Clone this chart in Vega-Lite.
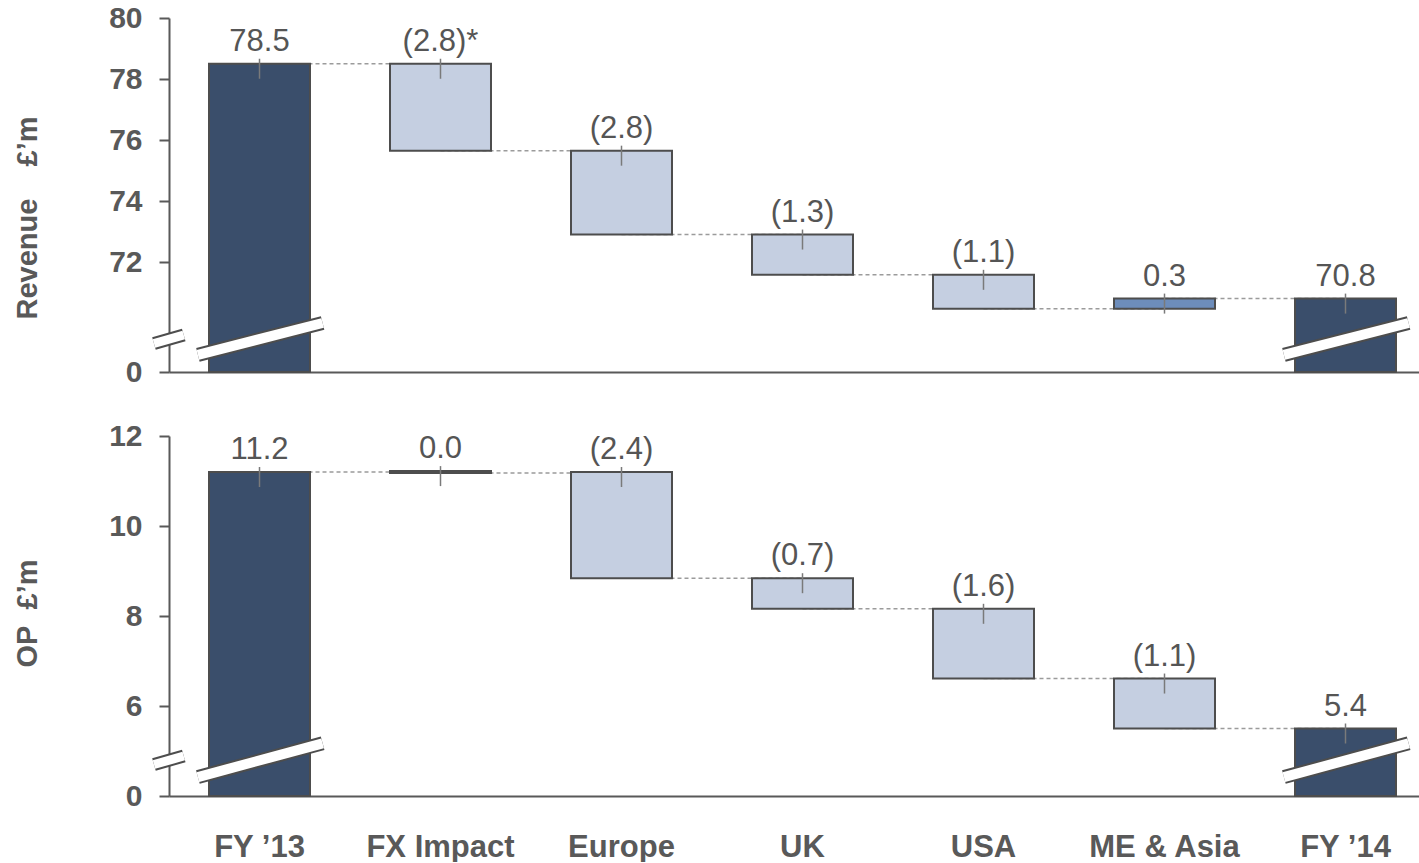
{
  "$schema": "https://vega.github.io/schema/vega-lite/v6.json",
  "background": "white",
  "padding": {"left": 12, "top": 3, "right": 0, "bottom": 0},
  "spacing": 64,
  "bounds": "flush",
  "config": {
    "view": {"stroke": null},
    "font": "Liberation Sans",
    "axis": {
      "grid": false,
      "domainColor": "#595959",
      "domainWidth": 2,
      "tickColor": "#595959",
      "tickWidth": 2,
      "labelFont": "Liberation Sans",
      "labelFontWeight": "bold",
      "labelFontSize": 30,
      "labelColor": "#595959",
      "titleFont": "Liberation Sans",
      "titleFontWeight": "bold",
      "titleFontSize": 29,
      "titleColor": "#595959"
    }
  },
  "datasets": {
    "revenue": [
      {"cat": "FY ’13", "start": 0, "end": 78.5, "kind": "total", "label": "78.5"},
      {"cat": "FX Impact", "start": 78.5, "end": 75.65, "kind": "decrease", "label": "(2.8)*"},
      {"cat": "Europe", "start": 75.65, "end": 72.9, "kind": "decrease", "label": "(2.8)"},
      {"cat": "UK", "start": 72.9, "end": 71.58, "kind": "decrease", "label": "(1.3)"},
      {"cat": "USA", "start": 71.58, "end": 70.47, "kind": "decrease", "label": "(1.1)"},
      {"cat": "ME & Asia", "start": 70.47, "end": 70.8, "kind": "increase", "label": "0.3"},
      {"cat": "FY ’14", "start": 0, "end": 70.8, "kind": "total", "label": "70.8"}
    ],
    "op": [
      {"cat": "FY ’13", "start": 0, "end": 11.2, "kind": "total", "label": "11.2"},
      {"cat": "FX Impact", "start": 11.22, "end": 11.18, "kind": "decrease", "label": "0.0"},
      {"cat": "Europe", "start": 11.2, "end": 8.84, "kind": "decrease", "label": "(2.4)"},
      {"cat": "UK", "start": 8.84, "end": 8.16, "kind": "decrease", "label": "(0.7)"},
      {"cat": "USA", "start": 8.16, "end": 6.61, "kind": "decrease", "label": "(1.6)"},
      {"cat": "ME & Asia", "start": 6.61, "end": 5.5, "kind": "decrease", "label": "(1.1)"},
      {"cat": "FY ’14", "start": 0, "end": 5.5, "kind": "total", "label": "5.4"}
    ]
  },
  "vconcat": [
    {
      "width": 1251,
      "height": 354,
      "data": {"name": "revenue"},
      "layer": [
        {
          "transform": [
            {"window": [{"op": "lead", "field": "cat", "as": "nextCat"}]},
            {"filter": "datum.nextCat != null"}
          ],
          "mark": {"type": "rule", "color": "#9b9b9b", "strokeWidth": 1.5, "strokeDash": [4, 3]},
          "encoding": {
            "x": {
              "field": "cat", "type": "nominal", "sort": null,
              "scale": {"domain": ["FY ’13", "FX Impact", "Europe", "UK", "USA", "ME & Asia", "FY ’14"], "paddingInner": 0.442, "paddingOuter": 0.1768, "align": 0.625, "round": false},
              "axis": {"title": null, "labels": false, "ticks": false, "domain": true}
            },
            "x2": {"field": "nextCat"},
            "y": {
              "field": "end", "type": "quantitative",
              "scale": {"domain": [0, 70, 80], "range": [354, 305, 0], "nice": false, "zero": false},
              "axis": {
                "values": [0, 72, 74, 76, 78, 80],
                "title": "Revenue\u00a0\u00a0\u00a0\u00a0£’m",
                "tickSize": 10,
                "labelPadding": 17,
                "titleAngle": -90,
                "titleX": -133,
                "titleY": 199.5,
                "titleBaseline": "alphabetic",
                "titleAlign": "center"
              }
            }
          }
        },
        {
          "mark": {"type": "bar", "stroke": "#4d4d4d", "strokeWidth": 2, "opacity": 1},
          "encoding": {
            "x": {"field": "cat", "type": "nominal", "sort": null},
            "y": {"field": "start", "type": "quantitative"},
            "y2": {"field": "end"},
            "color": {"field": "kind", "type": "nominal", "legend": null,
              "scale": {"domain": ["total", "decrease", "increase"], "range": ["#3a4e6b", "#c5cfe1", "#6d8dbb"]}}
          }
        },
        {
          "transform": [{"filter": "datum.end < datum.start"}],
          "encoding": {
            "x": {"field": "cat", "type": "nominal", "sort": null},
            "y": {"field": "start", "type": "quantitative"}
          },
          "layer": [
            {"mark": {"type": "tick", "orient": "vertical", "size": 20, "thickness": 1.5, "color": "#7a7a7a", "opacity": 1, "yOffset": 5}},
            {"mark": {"type": "text", "dy": -13, "baseline": "alphabetic", "align": "center", "fontSize": 31, "color": "#555555", "font": "Liberation Sans"},
             "encoding": {"text": {"field": "label"}}}
          ]
        },
        {
          "transform": [{"filter": "datum.end >= datum.start"}],
          "encoding": {
            "x": {"field": "cat", "type": "nominal", "sort": null},
            "y": {"field": "end", "type": "quantitative"}
          },
          "layer": [
            {"mark": {"type": "tick", "orient": "vertical", "size": 20, "thickness": 1.5, "color": "#7a7a7a", "opacity": 1, "yOffset": 5}},
            {"mark": {"type": "text", "dy": -13, "baseline": "alphabetic", "align": "center", "fontSize": 31, "color": "#555555", "font": "Liberation Sans"},
             "encoding": {"text": {"field": "label"}}}
          ]
        },
        {
          "data": {"values": [{"cat": "FY ’13"}, {"cat": "FY ’14"}]},
          "encoding": {
            "x": {"field": "cat", "type": "nominal", "sort": null, "bandPosition": -0.11},
            "x2": {"field": "cat", "bandPosition": 1.125},
            "y": {"datum": 24.5, "type": "quantitative"},
            "y2": {"datum": 70}
          },
          "layer": [
            {"mark": {"type": "rule", "color": "#4d4d4d", "strokeWidth": 14, "strokeCap": "butt"}},
            {"mark": {"type": "rule", "color": "white", "strokeWidth": 10, "strokeCap": "butt"}}
          ]
        },
        {
          "data": {"values": [{"cat": "FY ’13"}]},
          "encoding": {
            "x": {"field": "cat", "type": "nominal", "sort": null, "bandPosition": -0.545},
            "x2": {"field": "cat", "bandPosition": -0.25},
            "y": {"datum": 40.7, "type": "quantitative"},
            "y2": {"datum": 52.9}
          },
          "layer": [
            {"mark": {"type": "rule", "color": "#4d4d4d", "strokeWidth": 13, "strokeCap": "butt"}},
            {"mark": {"type": "rule", "color": "white", "strokeWidth": 9, "strokeCap": "butt"}}
          ]
        }
      ]
    },
    {
      "width": 1251,
      "height": 360,
      "data": {"name": "op"},
      "layer": [
        {
          "transform": [
            {"window": [{"op": "lead", "field": "cat", "as": "nextCat"}]},
            {"filter": "datum.nextCat != null"}
          ],
          "mark": {"type": "rule", "color": "#9b9b9b", "strokeWidth": 1.5, "strokeDash": [4, 3]},
          "encoding": {
            "x": {
              "field": "cat", "type": "nominal", "sort": null,
              "scale": {"domain": ["FY ’13", "FX Impact", "Europe", "UK", "USA", "ME & Asia", "FY ’14"], "paddingInner": 0.442, "paddingOuter": 0.1768, "align": 0.625, "round": false},
              "axis": {"title": null, "labelAngle": 0, "ticks": false, "tickSize": 0, "labelPadding": 36, "labelFontSize": 31}
            },
            "x2": {"field": "nextCat"},
            "y": {
              "field": "end", "type": "quantitative",
              "scale": {"domain": [0, 5, 12], "range": [360, 315, 0], "nice": false, "zero": false},
              "axis": {
                "values": [0, 6, 8, 10, 12],
                "title": "OP\u00a0\u00a0£’m",
                "tickSize": 10,
                "labelPadding": 17,
                "titleAngle": -90,
                "titleX": -133,
                "titleY": 177,
                "titleBaseline": "alphabetic",
                "titleAlign": "center"
              }
            }
          }
        },
        {
          "mark": {"type": "bar", "stroke": "#4d4d4d", "strokeWidth": 2, "opacity": 1},
          "encoding": {
            "x": {"field": "cat", "type": "nominal", "sort": null},
            "y": {"field": "start", "type": "quantitative"},
            "y2": {"field": "end"},
            "color": {"field": "kind", "type": "nominal", "legend": null,
              "scale": {"domain": ["total", "decrease", "increase"], "range": ["#3a4e6b", "#c5cfe1", "#6d8dbb"]}}
          }
        },
        {
          "transform": [{"filter": "datum.end < datum.start"}],
          "encoding": {
            "x": {"field": "cat", "type": "nominal", "sort": null},
            "y": {"field": "start", "type": "quantitative"}
          },
          "layer": [
            {"mark": {"type": "tick", "orient": "vertical", "size": 20, "thickness": 1.5, "color": "#7a7a7a", "opacity": 1, "yOffset": 5}},
            {"mark": {"type": "text", "dy": -13, "baseline": "alphabetic", "align": "center", "fontSize": 31, "color": "#555555", "font": "Liberation Sans"},
             "encoding": {"text": {"field": "label"}}}
          ]
        },
        {
          "transform": [{"filter": "datum.end >= datum.start"}],
          "encoding": {
            "x": {"field": "cat", "type": "nominal", "sort": null},
            "y": {"field": "end", "type": "quantitative"}
          },
          "layer": [
            {"mark": {"type": "tick", "orient": "vertical", "size": 20, "thickness": 1.5, "color": "#7a7a7a", "opacity": 1, "yOffset": 5}},
            {"mark": {"type": "text", "dy": -13, "baseline": "alphabetic", "align": "center", "fontSize": 31, "color": "#555555", "font": "Liberation Sans"},
             "encoding": {"text": {"field": "label"}}}
          ]
        },
        {
          "data": {"values": [{"cat": "FY ’13"}, {"cat": "FY ’14"}]},
          "encoding": {
            "x": {"field": "cat", "type": "nominal", "sort": null, "bandPosition": -0.11},
            "x2": {"field": "cat", "bandPosition": 1.125},
            "y": {"datum": 2.1, "type": "quantitative"},
            "y2": {"datum": 5.17}
          },
          "layer": [
            {"mark": {"type": "rule", "color": "#4d4d4d", "strokeWidth": 14, "strokeCap": "butt"}},
            {"mark": {"type": "rule", "color": "white", "strokeWidth": 10, "strokeCap": "butt"}}
          ]
        },
        {
          "data": {"values": [{"cat": "FY ’13"}]},
          "encoding": {
            "x": {"field": "cat", "type": "nominal", "sort": null, "bandPosition": -0.545},
            "x2": {"field": "cat", "bandPosition": -0.25},
            "y": {"datum": 3.5, "type": "quantitative"},
            "y2": {"datum": 4.44}
          },
          "layer": [
            {"mark": {"type": "rule", "color": "#4d4d4d", "strokeWidth": 13, "strokeCap": "butt"}},
            {"mark": {"type": "rule", "color": "white", "strokeWidth": 9, "strokeCap": "butt"}}
          ]
        }
      ]
    }
  ]
}
